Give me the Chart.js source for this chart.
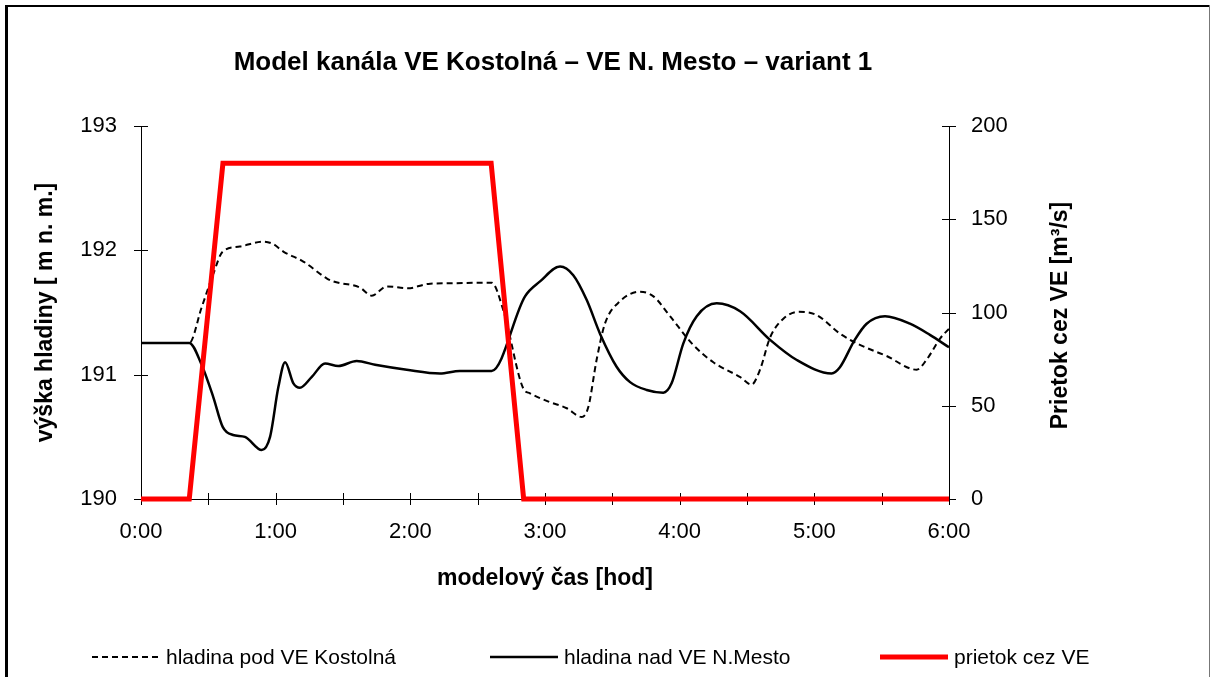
<!DOCTYPE html>
<html>
<head>
<meta charset="utf-8">
<script src="https://cdn.jsdelivr.net/npm/chart.js@4/dist/chart.umd.min.js"></script>
<style>
  html, body { margin: 0; padding: 0; background: #fff; }
  #wrap { width: 1211px; height: 677px; }
</style>
</head>
<body>
<div id="wrap"><canvas id="c" width="1211" height="677"></canvas></div>
<script>
// Model time in minutes, water levels in m n. m., discharge in m3/s
const flowTime   = [0, 21.5, 36.5, 156, 170.5, 360];
const flowValues = [0, 0, 180, 180, 0, 0];

const kostolnaTime  = [0, 21.5, 27, 32.2, 36.4, 44, 54.5, 59, 63.4, 72.3, 82.7, 85.7, 97.6, 102.8, 109.5, 119, 128, 137.7, 156.2,
                       161.4, 170.3, 173.3, 182, 189.7, 196.3, 199.3, 203, 206.7, 213.4, 222.3, 228.3, 235.7, 246, 255, 267, 272,
                       275.8, 280.3, 286.2, 293, 301, 311.4, 320.3, 332.2, 345.6, 350, 356, 360];
const kostolnaLevel = [191.255, 191.255, 191.54, 191.81, 191.99, 192.03, 192.07, 192.05, 191.99, 191.91, 191.775, 191.75, 191.70, 191.635, 191.71, 191.695, 191.73, 191.735, 191.74,
                       191.52, 190.89, 190.85, 190.78, 190.73, 190.66, 190.74, 191.12, 191.41, 191.59, 191.667, 191.63, 191.47, 191.24, 191.10, 190.98, 190.92,
                       191.04, 191.30, 191.45, 191.506, 191.48, 191.33, 191.24, 191.15, 191.04, 191.12, 191.29, 191.37];

const mestoTime  = [0, 21.5, 27, 32.2, 36.4, 41, 46.3, 53.8, 57.5, 61.2, 64.2, 67.9, 70.8, 76, 82, 87.9, 96.1, 104.3, 118.4, 133.2, 142, 156.2,
                    171.1, 177.8, 186.7, 192.6, 198.6, 204.5, 211.9, 217.9, 225.3, 232.7, 236.4, 241.6, 247.6, 256.5, 266.9, 280.3, 292,
                    307.7, 311.4, 318, 323.3, 331.5, 342.6, 351.5, 360];
const mestoLevel = [191.255, 191.255, 191.08, 190.82, 190.58, 190.515, 190.50, 190.394, 190.50, 190.90, 191.10, 190.93, 190.895, 190.98, 191.09, 191.07, 191.11, 191.08, 191.04, 191.01, 191.03, 191.03,
                    191.63, 191.75, 191.87, 191.80, 191.60, 191.33, 191.064, 190.94, 190.877, 190.855, 190.93, 191.25, 191.47, 191.574, 191.51, 191.28, 191.12,
                    191.01, 191.06, 191.28, 191.41, 191.47, 191.41, 191.32, 191.22];

const seriesLabels = ['hladina pod VE Kostolná', 'hladina nad VE N.Mesto', 'prietok cez VE'];
const chartTitle = 'Model kanála VE Kostolná – VE N. Mesto – variant 1';
const xTitle = 'modelový čas [hod]';
const yLeftTitle = 'výška hladiny [ m n. m.]';
const yRightTitle = 'Prietok cez VE [m³/s]';

const FONT = "'Liberation Sans', Arial, sans-serif";
Chart.defaults.font.family = FONT;
Chart.defaults.color = '#000';

const pairs = (xs, ys) => xs.map((x, i) => ({ x, y: ys[i] }));

// white page with a frame around it
const framePlugin = {
  id: 'frame',
  beforeDraw(chart) {
    const ctx = chart.ctx;
    ctx.save();
    ctx.fillStyle = '#fff';
    ctx.fillRect(0, 0, chart.width, chart.height);
    ctx.fillStyle = '#000';
    ctx.fillRect(5, 5, 3, chart.height);
    ctx.fillRect(5, 5, 1205, 2);
    ctx.fillStyle = '#777';
    ctx.fillRect(1209, 5, 1, chart.height);
    ctx.restore();
  }
};

// tick marks crossing each axis line
const crossTicks = {
  id: 'crossTicks',
  beforeDatasetsDraw(chart) {
    const ctx = chart.ctx;
    const a = chart.chartArea;
    ctx.save();
    ctx.strokeStyle = '#000';
    ctx.lineWidth = 1;
    ctx.beginPath();
    const sx = chart.scales.x;
    sx.ticks.forEach(t => {
      const p = Math.round(sx.getPixelForValue(t.value)) + 0.5;
      ctx.moveTo(p, a.bottom - 6); ctx.lineTo(p, a.bottom + 6);
    });
    const yl = chart.scales.yL;
    yl.ticks.forEach(t => {
      const p = Math.round(yl.getPixelForValue(t.value)) + 0.5;
      ctx.moveTo(a.left - 7, p); ctx.lineTo(a.left + 7, p);
    });
    const yr = chart.scales.yR;
    yr.ticks.forEach(t => {
      const p = Math.round(yr.getPixelForValue(t.value)) + 0.5;
      ctx.moveTo(a.right - 7, p); ctx.lineTo(a.right + 7, p);
    });
    ctx.stroke();
    ctx.restore();
  }
};

// chart title and right axis title (reading bottom to top)
const titles = {
  id: 'titles',
  afterDraw(chart) {
    const ctx = chart.ctx;
    const a = chart.chartArea;
    ctx.save();
    ctx.fillStyle = '#000';
    ctx.textAlign = 'center';
    ctx.textBaseline = 'middle';
    ctx.font = 'bold 26px ' + FONT;
    ctx.fillText(chartTitle, 553, 63);
    ctx.translate(1061, (a.top + a.bottom) / 2 + 3);
    ctx.rotate(-Math.PI / 2);
    ctx.font = 'bold 23px ' + FONT;
    ctx.fillText(yRightTitle, 0, 0);
    ctx.restore();
  }
};

// legend row along the bottom
const lineLegend = {
  id: 'lineLegend',
  afterDraw(chart) {
    const ctx = chart.ctx;
    const y = 657;
    const starts = [92, 490, 880];
    ctx.save();
    ctx.font = '21px ' + FONT;
    ctx.textBaseline = 'middle';
    ctx.textAlign = 'left';
    chart.data.datasets.forEach((ds, i) => {
      const x = starts[i];
      ctx.save();
      ctx.strokeStyle = ds.borderColor;
      ctx.lineWidth = ds.borderWidth;
      ctx.setLineDash(ds.borderDash || []);
      ctx.beginPath();
      ctx.moveTo(x, y); ctx.lineTo(x + 68, y);
      ctx.stroke();
      ctx.restore();
      ctx.fillStyle = '#000';
      ctx.fillText(ds.label, x + 74, y + 1);
    });
    ctx.restore();
  }
};

new Chart(document.getElementById('c'), {
  type: 'line',
  data: {
    datasets: [
      {
        label: seriesLabels[0],
        data: pairs(kostolnaTime, kostolnaLevel),
        yAxisID: 'yL',
        borderColor: '#000',
        borderWidth: 2,
        borderDash: [6, 4],
        cubicInterpolationMode: 'monotone',
        pointRadius: 0,
        order: 2
      },
      {
        label: seriesLabels[1],
        data: pairs(mestoTime, mestoLevel),
        yAxisID: 'yL',
        borderColor: '#000',
        borderWidth: 2.5,
        cubicInterpolationMode: 'monotone',
        pointRadius: 0,
        order: 1
      },
      {
        label: seriesLabels[2],
        data: pairs(flowTime, flowValues),
        yAxisID: 'yR',
        borderColor: '#FF0000',
        borderWidth: 5,
        tension: 0,
        pointRadius: 0,
        clip: false,
        order: 0
      }
    ]
  },
  options: {
    responsive: false,
    animation: false,
    devicePixelRatio: 1,
    layout: { padding: { top: 126, left: 0, right: 0, bottom: 68 } },
    plugins: {
      legend: { display: false },
      tooltip: { enabled: false },
      title: { display: false }
    },
    scales: {
      x: {
        type: 'linear',
        min: 0,
        max: 360,
        grid: { display: false, drawTicks: false },
        border: { display: true, color: '#000', width: 1 },
        ticks: {
          stepSize: 30,
          autoSkip: false,
          maxRotation: 0,
          padding: 20,
          color: '#000',
          font: { size: 22 },
          callback: v => (v % 60 === 0 ? (v / 60) + ':00' : '')
        },
        title: {
          display: true,
          text: xTitle,
          color: '#000',
          font: { size: 23, weight: 'bold', lineHeight: 1.2 },
          padding: { top: 0, bottom: 17 }
        },
        afterFit: s => { s.height = 110; }
      },
      yL: {
        position: 'left',
        min: 190,
        max: 193,
        grid: { display: false, drawTicks: false },
        border: { display: true, color: '#000', width: 1 },
        ticks: { stepSize: 1, padding: 24, color: '#000', font: { size: 22 } },
        title: {
          display: true,
          text: yLeftTitle,
          color: '#000',
          font: { size: 23, weight: 'bold', lineHeight: 1.2 },
          padding: { top: 32, bottom: 0 }
        },
        afterFit: s => { s.width = 141; }
      },
      yR: {
        position: 'right',
        min: 0,
        max: 200,
        grid: { display: false, drawTicks: false },
        border: { display: true, color: '#000', width: 1 },
        ticks: { stepSize: 50, padding: 22, color: '#000', font: { size: 22 } },
        afterFit: s => { s.width = 262; }
      }
    }
  },
  plugins: [framePlugin, crossTicks, titles, lineLegend]
});
</script>
</body>
</html>
